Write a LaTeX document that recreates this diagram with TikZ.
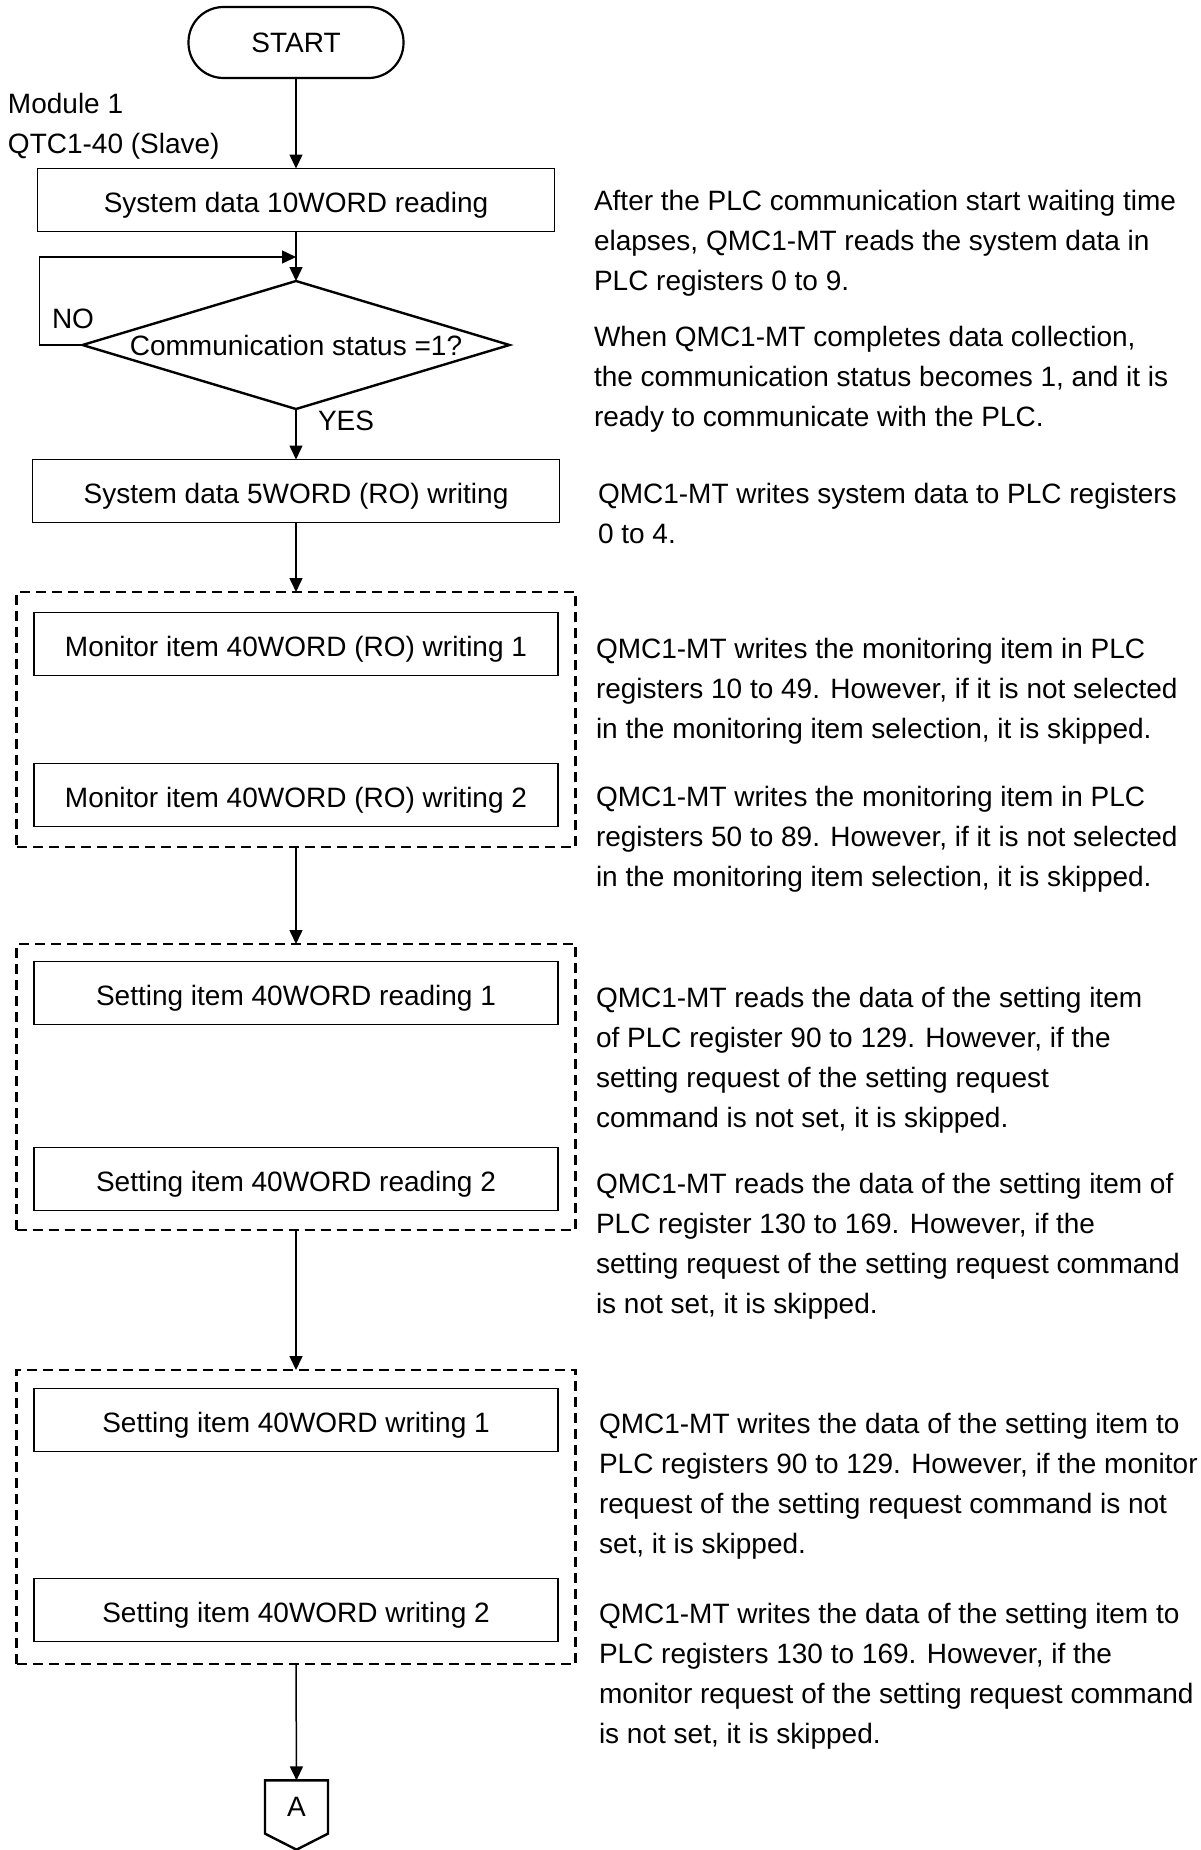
\documentclass[tikz,border=0pt]{standalone}
\usepackage{fontspec}
\setmainfont{Liberation Sans}
\usetikzlibrary{arrows.meta,shapes.geometric,shapes.symbols}

\begin{document}
\begin{tikzpicture}[
  x=1pt,y=-1pt,
  font=\fontsize{28}{40}\selectfont,
  every node/.style={
    text=black,outer sep=0pt
  },
  terminal/.style={
    draw,line width=2.2pt,
    rounded corners=35pt,
    minimum width=215pt,
    minimum height=71pt
  },
  proc/.style={
    draw,line width=1.3pt,
    minimum height=63pt,
    text height=25pt,text depth=0pt,
    inner sep=0pt
  },
  decision/.style={
    draw,diamond,line width=2.4pt,
    aspect=3.34,inner sep=0pt,
    minimum width=427pt,
    minimum height=128pt
  },
  group/.style={
    draw,line width=2.6pt,
    dash pattern=on 10pt off 6pt,
    minimum width=559pt
  },
  offpage/.style={
    draw,signal,signal to=south,
    signal pointer angle=126,
    line width=2.4pt,inner sep=0pt,
    minimum width=63pt,
    minimum height=58pt
  },
  flow/.style={
    -{Triangle[length=14pt,width=13pt]},
    line width=1.5pt
  },
  note/.style={
    anchor=base west,align=left,inner sep=0pt
  },
  tag/.style={
    anchor=west,inner sep=0pt
  }
]
\path[use as bounding box] (0,0) rectangle (1201,1850);

% Start and module label (anchored on the last baseline)
\node[terminal] (start) at (296,42.5) {START};

\node[note] (module) at (8,153)
  {Module 1\\QTC1-40 (Slave)};

% System data steps
\node[proc,minimum width=517pt] (read10) at (296,200)
  {System data 10WORD reading};

\node[decision] (check) at (296,345)
  {Communication status =1?};

\node[proc,minimum width=527pt] (write5) at (296,491)
  {System data 5WORD (RO) writing};

\node[tag] (no) at (52,319) {NO};
\node[tag] (yes) at (318,421) {YES};

% Dashed groups
\node[group,minimum height=255pt] (g1) at (296,719.5) {};
\node[group,minimum height=286pt] (g2) at (296,1087) {};
\node[group,minimum height=294pt] (g3) at (296,1517) {};

% Item steps inside the groups
\foreach \name/\y/\txt in {
  mon1/644/{Monitor item 40WORD (RO) writing 1},
  mon2/795/{Monitor item 40WORD (RO) writing 2},
  set1/993/{Setting item 40WORD reading 1},
  set2/1179/{Setting item 40WORD reading 2},
  wr1/1420/{Setting item 40WORD writing 1},
  wr2/1610/{Setting item 40WORD writing 2}
}{
  \node[proc,minimum width=524pt] (\name) at (296,\y) {\txt};
}

% Connector to next page
\node[offpage] (conn) at (296.5,1807) {A};

% Main flow
\draw[flow] (start.south) -- (read10.north);
\draw[flow] (read10.south) -- (check.north);
\draw[flow] (check.south) -- (write5.north);
\draw[flow] (write5.south) -- (g1.north);
\draw[flow] (g1.south) -- (g2.north);
\draw[flow] (g2.south) -- (g3.north);
\draw[flow] (g3.south) -- (conn.north);

% Waiting loop
\coordinate (merge) at (296,257);
\draw[flow] (check.west) -- ++(-43,0) |- (merge);

% Explanations (anchored on the last baseline)
\node[note] (n1) at (594,290)
  {After the PLC communication start waiting time\\
   elapses, QMC1-MT reads the system data in\\
   PLC registers 0 to 9.};

\node[note] (n2) at (594,426)
  {When QMC1-MT completes data collection,\\
   the communication status becomes 1, and it is\\
   ready to communicate with the PLC.};

\node[note] (n3) at (598,543)
  {QMC1-MT writes system data to PLC registers\\
   0 to 4.};

\node[note] (n4) at (596,738)
  {QMC1-MT writes the monitoring item in PLC\\
   registers 10 to 49. However, if it is not selected\\
   in the monitoring item selection, it is skipped.};

\node[note] (n5) at (596,886)
  {QMC1-MT writes the monitoring item in PLC\\
   registers 50 to 89. However, if it is not selected\\
   in the monitoring item selection, it is skipped.};

\node[note] (n6) at (596,1127)
  {QMC1-MT reads the data of the setting item\\
   of PLC register 90 to 129. However, if the\\
   setting request of the setting request\\
   command is not set, it is skipped.};

\node[note] (n7) at (596,1313)
  {QMC1-MT reads the data of the setting item of\\
   PLC register 130 to 169. However, if the\\
   setting request of the setting request command\\
   is not set, it is skipped.};

\node[note] (n8) at (599,1553)
  {QMC1-MT writes the data of the setting item to\\
   PLC registers 90 to 129. However, if the monitor\\
   request of the setting request command is not\\
   set, it is skipped.};

\node[note] (n9) at (599,1743)
  {QMC1-MT writes the data of the setting item to\\
   PLC registers 130 to 169. However, if the\\
   monitor request of the setting request command\\
   is not set, it is skipped.};

\end{tikzpicture}
\end{document}
